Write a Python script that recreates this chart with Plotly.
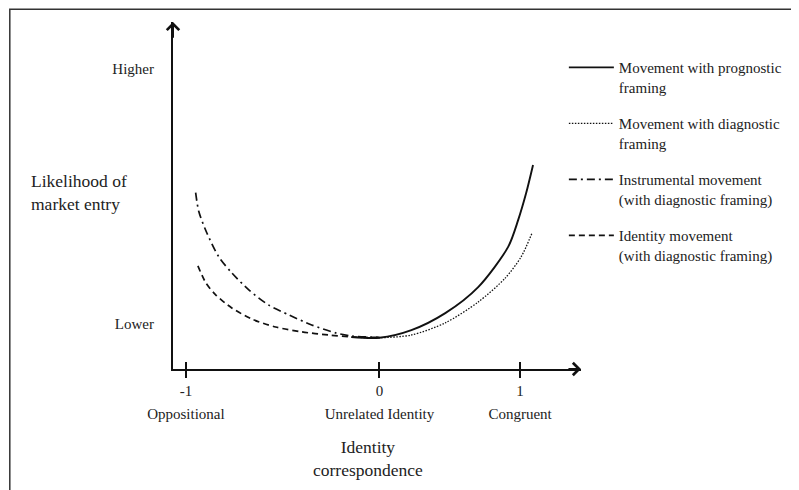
import plotly.graph_objects as go

# ---- data (x: identity-correspondence position, y: likelihood score 0-100) ----
instr_x = [-1.307, -1.284, -1.227, -1.142, -1.050, -0.929, -0.787, -0.645, -0.482, -0.312, -0.199, 0.0]
instr_y = [50.8, 45.3, 39.2, 32.3, 27.7, 22.8, 18.4, 15.6, 12.7, 10.4, 9.5, 9.1]

ident_x = [-1.291, -1.234, -1.163, -1.050, -0.908, -0.738, -0.553, -0.362, -0.170, 0.0]
ident_y = [29.7, 24.8, 21.3, 17.6, 14.4, 12.1, 10.7, 9.8, 9.2, 9.1]

prog_x = [-0.20, 0.0, 0.227, 0.468, 0.702, 0.915, 0.986, 1.043, 1.092]
prog_y = [9.2, 9.0, 11.2, 16.1, 23.6, 35.2, 42.9, 50.7, 58.8]

diag_x = [-0.20, 0.0, 0.227, 0.468, 0.702, 0.894, 1.007, 1.085]
diag_y = [9.2, 9.0, 9.8, 13.3, 19.3, 26.2, 32.3, 39.2]

x_tickvals = [-1.376, 0.0, 1.0]
x_ticknums = ["-1", "0", "1"]
x_tickwords = ["Oppositional", "Unrelated Identity", "Congruent"]
y_tickvals = [13.0, 86.5]
y_ticktext = ["Lower", "Higher"]

names = [
    "Movement with prognostic<br>framing",
    "Movement with diagnostic<br>framing",
    "Instrumental movement<br>(with diagnostic framing)",
    "Identity movement<br>(with diagnostic framing)",
]

FONT = "Liberation Serif"
X_RANGE = [-1.468, 1.433]
Y_RANGE = [0, 100]

fig = go.Figure()
fig.add_trace(go.Scatter(x=prog_x, y=prog_y, mode="lines", name=names[0], legendgroup="a",
                         line=dict(color="#111", width=1.9, shape="spline", smoothing=0.8)))
fig.add_trace(go.Scatter(x=diag_x, y=diag_y, mode="lines", name=names[1], legendgroup="b",
                         line=dict(color="#111", width=1.3, dash="1.5px,1.5px", shape="spline", smoothing=0.8)))
fig.add_trace(go.Scatter(x=instr_x, y=instr_y, mode="lines", name=names[2], legendgroup="c",
                         line=dict(color="#111", width=1.7, dash="8px,4px,2px,4px", shape="spline", smoothing=0.8)))
fig.add_trace(go.Scatter(x=ident_x, y=ident_y, mode="lines", name=names[3], legendgroup="d",
                         xaxis="x2",
                         line=dict(color="#111", width=1.7, dash="6px,4px", shape="spline", smoothing=0.8)))

fig.update_layout(
    width=791, height=482,
    margin=dict(l=165, r=216, t=14, b=121),
    paper_bgcolor="white", plot_bgcolor="white",
    font=dict(family=FONT, color="#222", size=15),
    xaxis=dict(range=X_RANGE, showgrid=False, zeroline=False, showline=True,
               linecolor="#111", linewidth=2, ticks="outside", ticklen=7, tickwidth=2,
               tickcolor="#111", tickmode="array", tickvals=x_tickvals, ticktext=x_ticknums,
               tickfont=dict(family=FONT, size=15, color="#222")),
    xaxis2=dict(range=X_RANGE, overlaying="x", anchor="y", side="bottom", matches="x",
                showgrid=False, zeroline=False, showline=False,
                ticks="inside", ticklen=7, tickwidth=2, tickcolor="#111",
                tickmode="array", tickvals=x_tickvals, ticktext=x_tickwords,
                ticklabelstandoff=34,
                tickfont=dict(family=FONT, size=15, color="#222")),
    yaxis=dict(range=Y_RANGE, showgrid=False, zeroline=False, showline=True,
               linecolor="#111", linewidth=2, ticks="", tickmode="array",
               tickvals=y_tickvals, ticktext=y_ticktext, ticklabelstandoff=14,
               tickfont=dict(family=FONT, size=15, color="#222")),
    legend=dict(x=0.958, y=0.916, xanchor="left", yanchor="top", valign="top",
                tracegroupgap=14, itemwidth=45,
                font=dict(family=FONT, size=15, color="#222"),
                bgcolor="rgba(0,0,0,0)"),
    showlegend=True,
)

# axis arrowheads
fig.add_annotation(x=X_RANGE[1], y=0, ax=X_RANGE[1] - 0.1, ay=0, xref="x", yref="y",
                   axref="x", ayref="y", text="", showarrow=True, arrowhead=4,
                   arrowsize=1.2, arrowwidth=2, arrowcolor="#111", standoff=0)
fig.add_annotation(x=X_RANGE[0], y=Y_RANGE[1], ax=X_RANGE[0], ay=Y_RANGE[1] - 5, xref="x", yref="y",
                   axref="x", ayref="y", text="", showarrow=True, arrowhead=4,
                   arrowsize=1.2, arrowwidth=2, arrowcolor="#111", standoff=0)

# axis titles
fig.add_annotation(x=-0.3537, y=0.51, xref="paper", yref="paper", xanchor="left", yanchor="middle",
                   align="left", showarrow=False, text="Likelihood of<br>market entry",
                   font=dict(family=FONT, size=17.5, color="#222"))
fig.add_annotation(x=0.479, y=-0.2565, xref="paper", yref="paper", xanchor="center", yanchor="middle",
                   align="center", showarrow=False, text="Identity<br>correspondence",
                   font=dict(family=FONT, size=17.5, color="#222"))

# outer frame (extends past right and bottom edges, as in the reference)
fig.add_shape(type="rect", xref="paper", yref="paper", x0=-0.4, x1=1.6, y0=-0.5, y1=1.037,
              line=dict(color="#333", width=1.5), fillcolor="rgba(0,0,0,0)", layer="below")

fig.write_html("out.html")
